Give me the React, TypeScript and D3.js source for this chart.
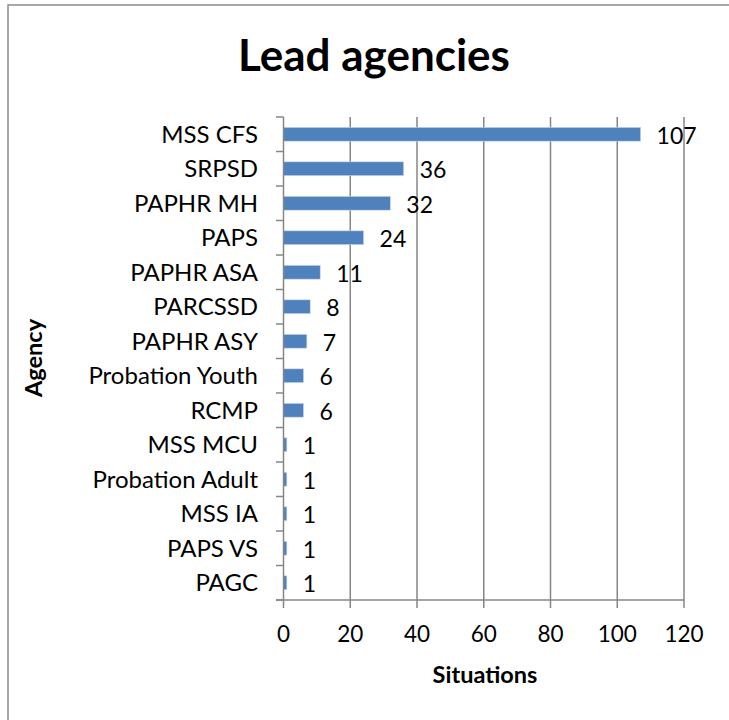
import React from "react";
import * as d3 from "d3";

const categories = [
  "MSS CFS",
  "SRPSD",
  "PAPHR MH",
  "PAPS",
  "PAPHR ASA",
  "PARCSSD",
  "PAPHR ASY",
  "Probation Youth",
  "RCMP",
  "MSS MCU",
  "Probation Adult",
  "MSS IA",
  "PAPS VS",
  "PAGC",
];
const values = [107, 36, 32, 24, 11, 8, 7, 6, 6, 1, 1, 1, 1, 1];
const xTicks = [0, 20, 40, 60, 80, 100, 120];

const W = 729;
const H = 720;
const FONT = "Lato, 'Open Sans', sans-serif";
const AXIS = "#868686";
const BAR = "#4F81BD";

export default function App() {
  const x = d3.scaleLinear().domain([0, 120]).range([283.5, 684]);
  const y = d3
    .scaleBand<string>()
    .domain(categories)
    .range([117, 600])
    .paddingInner(0.6)
    .paddingOuter(0.3);
  const step = y.step();
  const top = 117;
  const bottom = 600;
  const boundaries = d3.range(categories.length + 1).map((i) => top + i * step);

  return (
    <svg
      width={W}
      height={H}
      style={{ position: "absolute", left: 0, top: 0, background: "#fff" }}
      fontFamily={FONT}
    >
      <rect x={0} y={0} width={W} height={H} fill="#fff" />
      <rect x={8} y={5} width={740} height={740} fill="none" stroke="#8c8c8c" strokeWidth={1.5} />
      <text x={374} y={71} textAnchor="middle" fontSize={44} fontWeight={700} fill="#000">
        Lead agencies
      </text>
      {/* gridlines */}
      {xTicks.slice(1).map((t) => (
        <line key={"g" + t} x1={x(t)} x2={x(t)} y1={top} y2={bottom} stroke={AXIS} strokeWidth={1.5} />
      ))}
      {/* bars */}
      {categories.map((c, i) => (
        <rect
          key={c}
          x={x(0)}
          y={y(c)!}
          width={x(values[i]) - x(0)}
          height={y.bandwidth()}
          fill={BAR}
          stroke="#c9d8ec"
          strokeWidth={0.6}
        />
      ))}
      {/* y axis */}
      <line x1={x(0)} x2={x(0)} y1={top} y2={bottom} stroke={AXIS} strokeWidth={1.5} />
      {boundaries.map((b, i) => (
        <line key={"yt" + i} x1={276} x2={x(0)} y1={b} y2={b} stroke={AXIS} strokeWidth={1.5} />
      ))}
      {/* x axis */}
      <line x1={276} x2={x(120)} y1={bottom} y2={bottom} stroke={AXIS} strokeWidth={1.5} />
      {xTicks.map((t) => (
        <line key={"xt" + t} x1={x(t)} x2={x(t)} y1={bottom} y2={608} stroke={AXIS} strokeWidth={1.5} />
      ))}
      {xTicks.map((t) => (
        <text key={"xl" + t} x={x(t)} y={634} dy="0.35em" textAnchor="middle" fontSize={22.5} fill="#000">
          {t}
        </text>
      ))}
      {/* category labels */}
      {categories.map((c) => (
        <text
          key={"cl" + c}
          x={258}
          y={y(c)! + y.bandwidth() / 2}
          dy="0.35em"
          textAnchor="end"
          fontSize={24}
          fill="#000"
        >
          {c}
        </text>
      ))}
      {/* value labels */}
      {categories.map((c, i) => (
        <text
          key={"vl" + c}
          x={x(values[i]) + 16}
          y={y(c)! + y.bandwidth() / 2 + 1.5}
          dy="0.35em"
          textAnchor="start"
          fontSize={23}
          fill="#000"
        >
          {values[i]}
        </text>
      ))}
      {/* axis titles */}
      <text x={485} y={675} dy="0.35em" textAnchor="middle" fontSize={23.5} fontWeight={700} fill="#000">
        Situations
      </text>
      <text
        transform={`translate(34,358) rotate(-90)`}
        dy="0.35em"
        textAnchor="middle"
        fontSize={23.5}
        fontWeight={700}
        fill="#000"
      >
        Agency
      </text>
    </svg>
  );
}
